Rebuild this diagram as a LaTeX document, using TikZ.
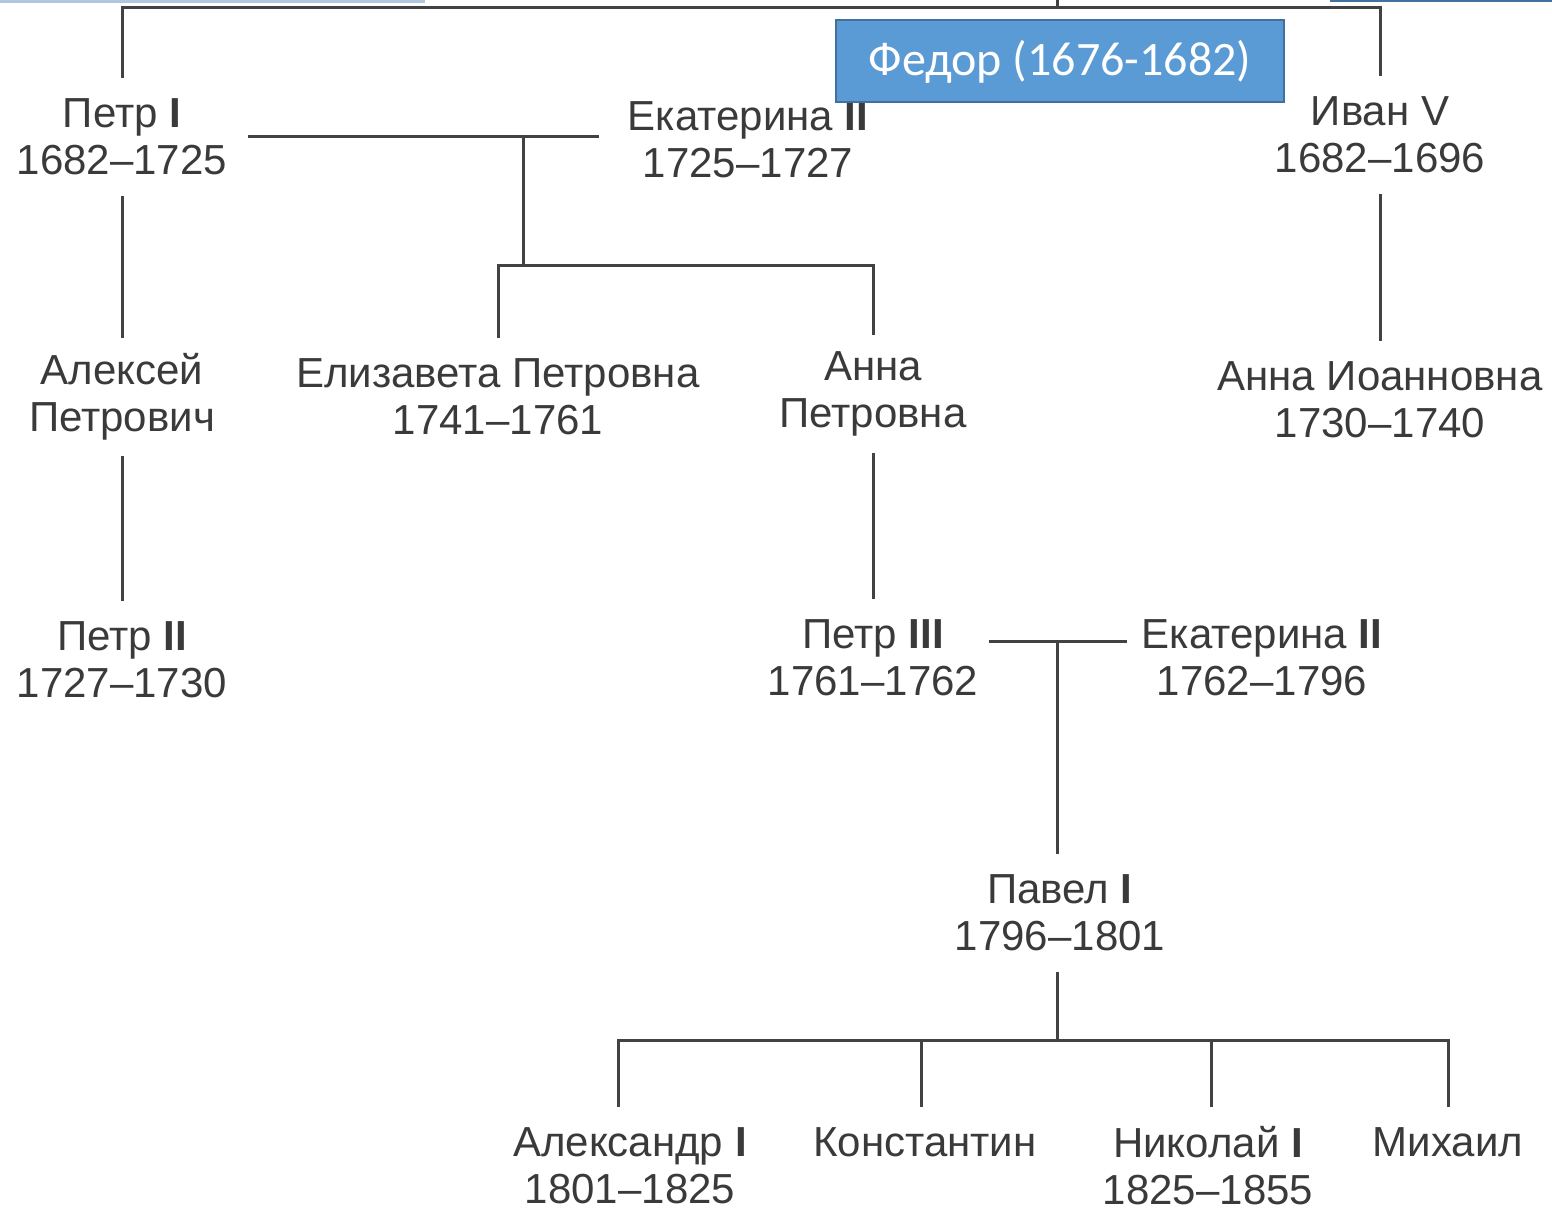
\documentclass[tikz,border=0pt]{standalone}
\usepackage{fontspec}
\setmainfont{Liberation Sans}
\newfontfamily\boxfont{Carlito}
\begin{document}
\begin{tikzpicture}[x=0.5pt,y=-0.5pt,
  person/.style={font=\fontsize{21}{23.5}\selectfont, text=txtgray, align=center,
    inner sep=0pt, minimum height=59pt},
  link/.style={draw=lngray, line width=1.5pt},
  fedorbox/.style={fill=fedorblue, draw=fedoredge, line width=1pt, minimum width=224pt,
    minimum height=41pt, inner sep=0pt, text=white, font=\boxfont\fontsize{24}{28}\selectfont}]
\definecolor{txtgray}{HTML}{3A3A3A}
\definecolor{lngray}{HTML}{424242}
\definecolor{fedorblue}{HTML}{5B9BD5}
\definecolor{fedoredge}{HTML}{41719C}
\definecolor{lightblue}{HTML}{AFC7E0}
\useasboundingbox (0,0) rectangle (1552,1213);
\fill[white] (0,0) rectangle (1552,1213);
% slivers of neighbouring boxes at the top edge
\fill[lightblue] (0,0) rectangle (425,3);
\fill[fedoredge] (1330,0) rectangle (1552,2);

% people
\node[person] (petr1)   at (122,137)  {Петр \textbf{I}\\1682–1725};
\node[person] (ekat1)   at (748,140)  {Екатерина \textbf{II}\\1725–1727};
\node[person] (ivan5)   at (1380,135) {Иван V\\1682–1696};
\node[person] (aleksei) at (122,397)  {Алексей\\Петрович};
\node[person] (eliz)    at (498,397)  {Елизавета Петровна\\1741–1761};
\node[person] (annap)   at (873,394)  {Анна\\Петровна};
\node[person] (annai)   at (1380,400) {Анна Иоанновна\\1730–1740};
\node[person] (petr2)   at (122,660)  {Петр \textbf{II}\\1727–1730};
\node[person] (petr3)   at (873,658)  {Петр \textbf{III}\\1761–1762};
\node[person] (ekat2)   at (1262,658) {Екатерина \textbf{II}\\1762–1796};
\node[person] (pavel)   at (1060,913) {Павел \textbf{I}\\1796–1801};
\node[person] (alex)    at (630,1166) {Александр \textbf{I}\\1801–1825};
\node[person] (konst)   at (925,1166) {Константин\\\mbox{}};
\node[person] (nik)     at (1208,1166){Николай \textbf{I}\\1825–1855};
\node[person] (mikh)    at (1448,1166){Михаил\\\mbox{}};

% junction coordinates
\coordinate (topbar) at (0,8);
\coordinate (topc) at (1057,8);
\coordinate (topend) at (1057,0);
\coordinate (m1) at (523,137);
\coordinate (kb1) at (0,266);
\coordinate (m2) at (1057,641);
\coordinate (kb2) at (0,1040);
\coordinate (xa) at (618,0);
\coordinate (xk) at (921,0);
\coordinate (xn) at (1211,0);

% top family bar
\draw[link] (petr1.north) -- (petr1.north |- topbar) -- (ivan5.north |- topbar) -- (ivan5.north);
\draw[link] (topc) -- (topend);

% Петр I + Екатерина
\draw[link, shorten <=10pt, shorten >=14pt] (petr1.east |- m1) -- (ekat1.west |- m1);
\draw[link] (m1) -- (m1 |- kb1);
\draw[link] (eliz.north) -- (eliz.north |- kb1) -- (annap.north |- kb1) -- (annap.north);

% descent lines
\draw[link] (petr1) -- (aleksei);
\draw[link] (aleksei) -- (petr2);
\draw[link] (ivan5) -- (annai);
\draw[link] (annap) -- (petr3);

% Петр III + Екатерина II
\draw[link, shorten <=5pt, shorten >=7pt] (petr3.east |- m2) -- (ekat2.west |- m2);
\draw[link] (m2) -- (m2 |- pavel.north);
\draw[link] (m2 |- pavel.south) -- (m2 |- kb2);

% children of Павел I
\draw[link] (xa |- alex.north) -- (xa |- kb2) -- (mikh.north |- kb2) -- (mikh.north);
\draw[link] (xk |- kb2) -- (xk |- konst.north);
\draw[link] (xn |- kb2) -- (xn |- nik.north);

% Федор box
\node[fedorbox, text depth=3pt] (fedor) at (1060,61) {Федор (1676-1682)};
\end{tikzpicture}
\end{document}
